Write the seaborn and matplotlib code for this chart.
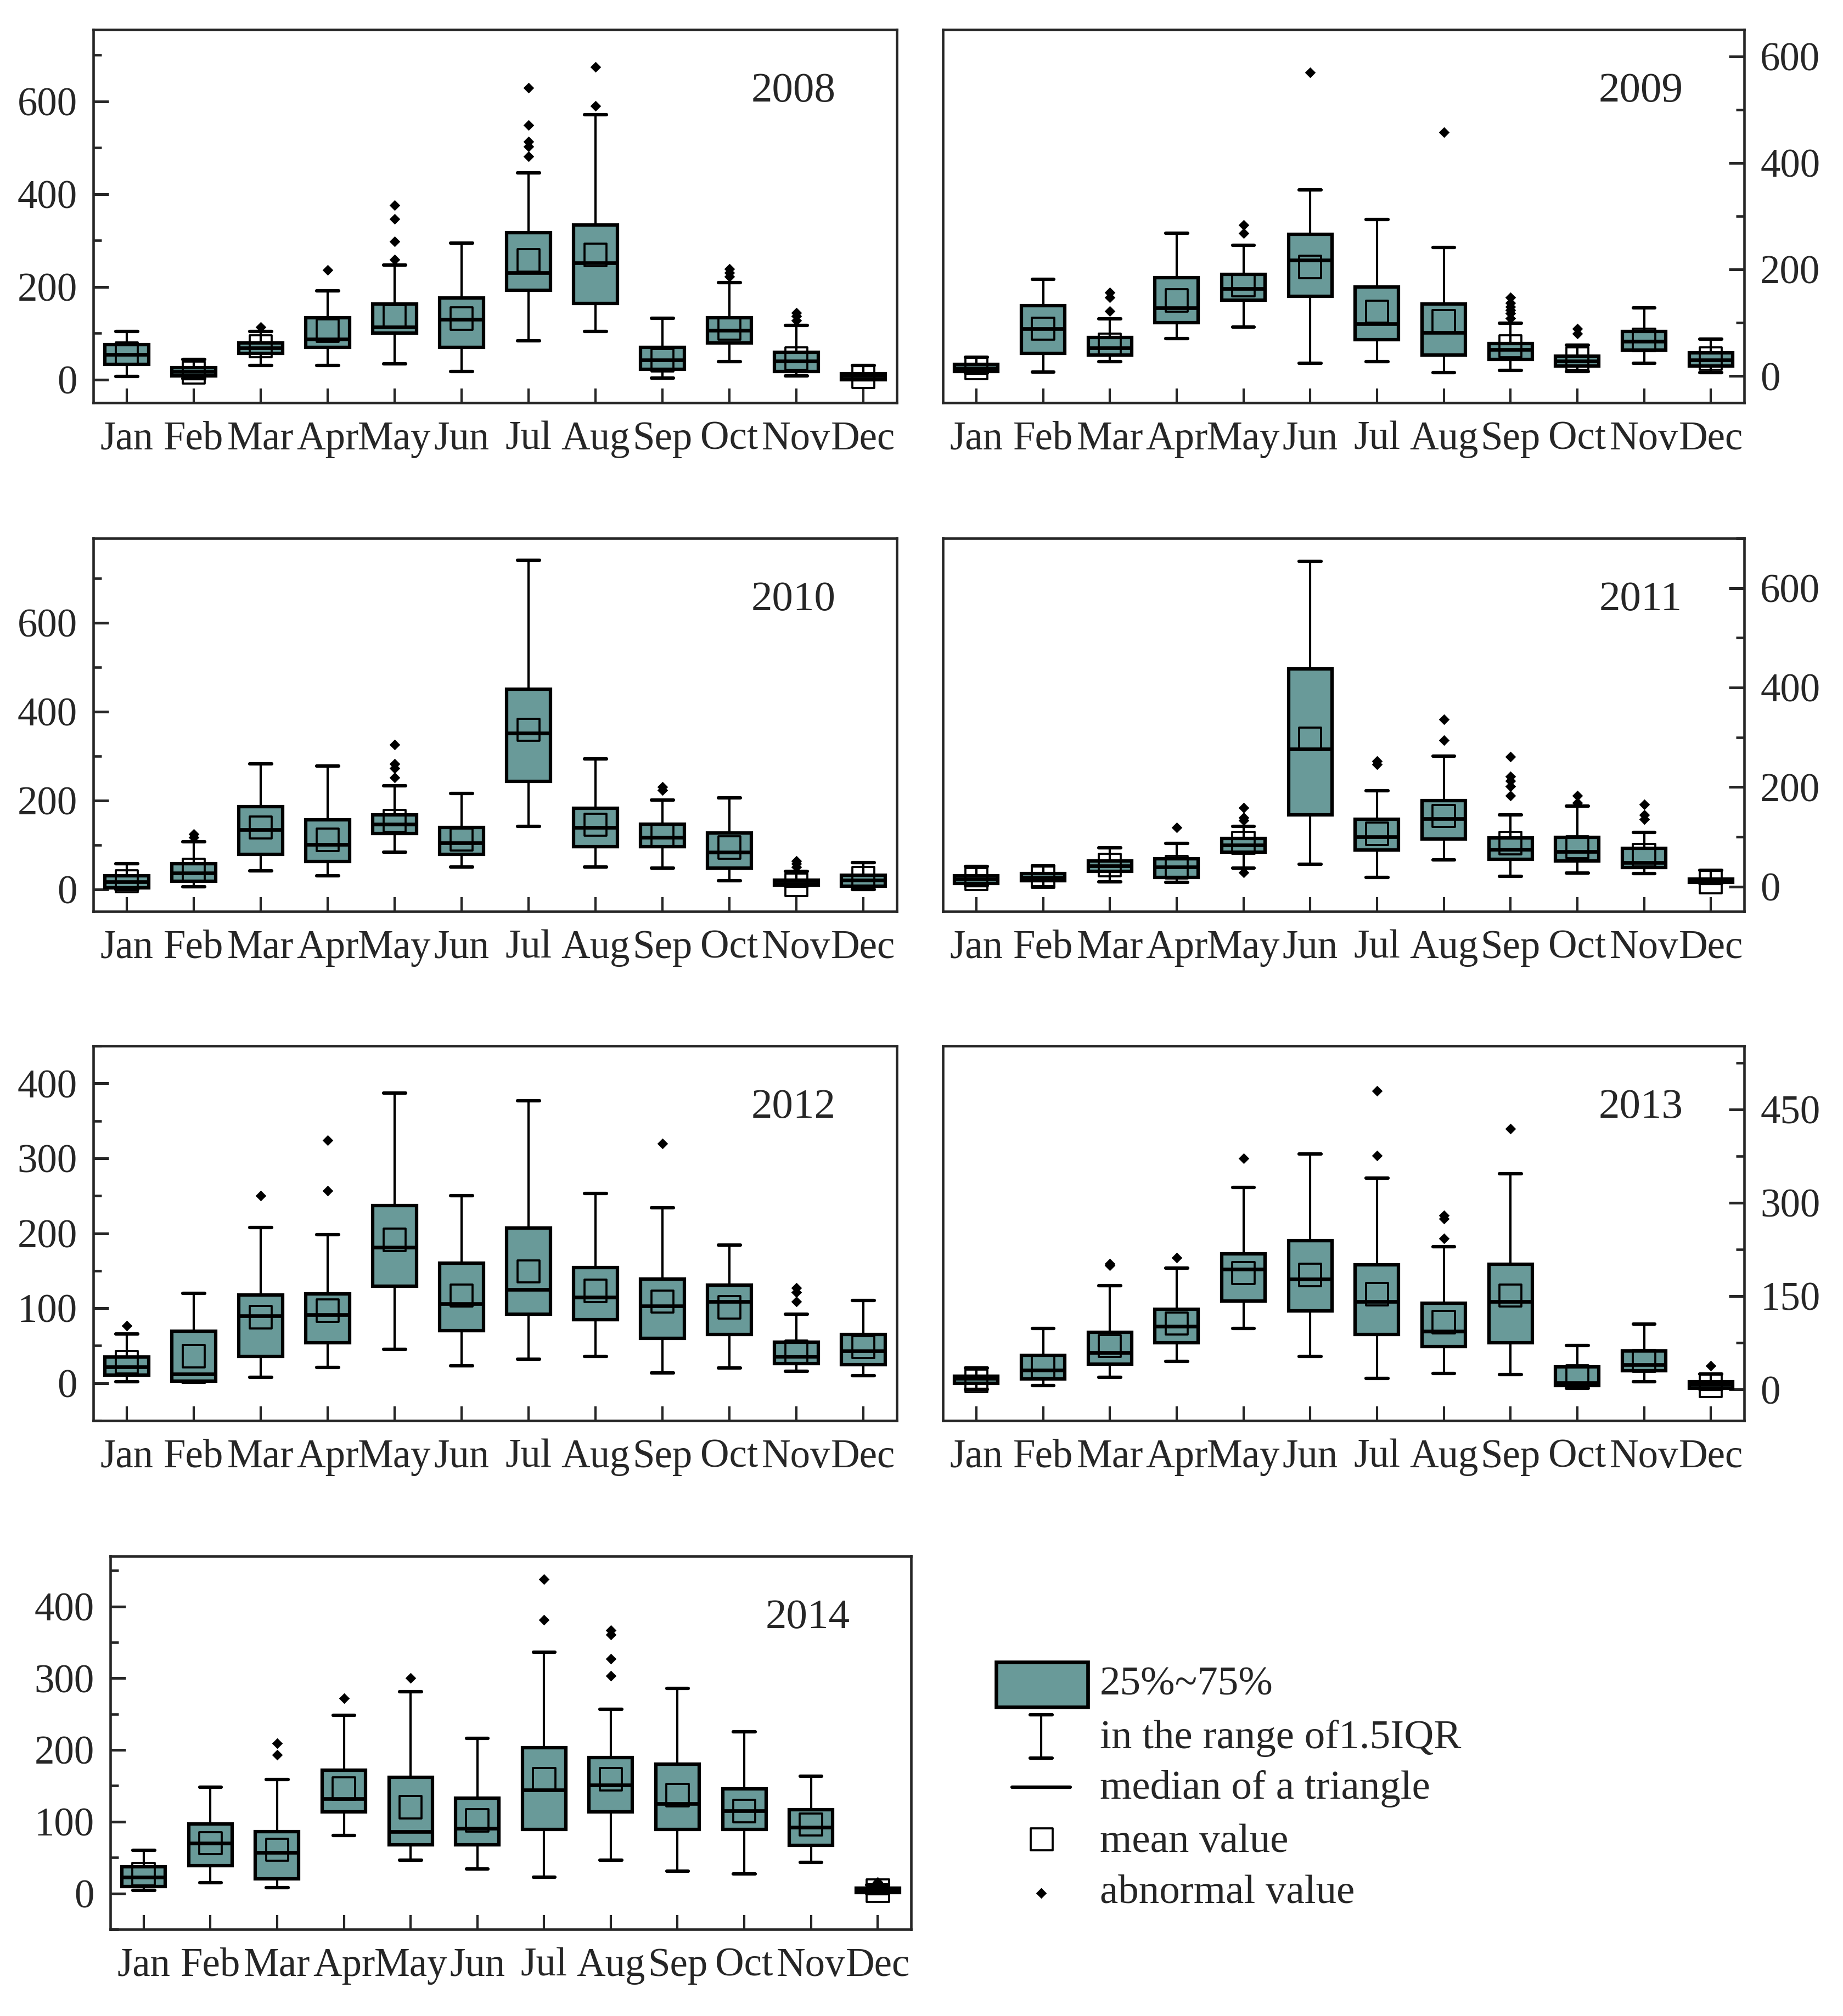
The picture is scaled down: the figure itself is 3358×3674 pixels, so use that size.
import numpy as np
import pandas as pd
import seaborn as sns
import matplotlib.pyplot as plt
from matplotlib.patches import Rectangle
from matplotlib.ticker import MultipleLocator

months = ['Jan', 'Feb', 'Mar', 'Apr', 'May', 'Jun', 'Jul', 'Aug', 'Sep', 'Oct', 'Nov', 'Dec']
years = [2008, 2009, 2010, 2011, 2012, 2013, 2014]

# 2008
lo_2008 = [7, 2, 30, 30, 34, 17, 84, 104, 3, 39, 8, 0]
q1_2008 = [33, 8, 57, 69, 100, 69, 193, 164, 22, 79, 17, 0]
med_2008 = [54, 18, 68, 87, 113, 130, 230, 252, 42, 106, 40, 8]
q3_2008 = [76, 26, 79, 134, 163, 176, 317, 333, 69, 134, 59, 13]
hi_2008 = [104, 43, 104, 191, 247, 294, 446, 572, 132, 209, 117, 30]
mean_2008 = [56, 15, 72, 106, 137, 132, 257, 269, 42, 110, 45, 6]
out_2008 = [[], [], [113], [237], [259, 298, 346, 376], [], [481, 503, 513, 549, 629],
            [590, 674], [], [222, 230, 239], [127, 137, 144], []]

# 2009
lo_2009 = [6, 8, 27, 70, 92, 24, 27, 7, 11, 9, 24, 7]
q1_2009 = [9, 43, 40, 100, 142, 150, 68, 40, 31, 19, 49, 19]
med_2009 = [15, 89, 53, 128, 164, 218, 98, 82, 50, 28, 65, 30]
q3_2009 = [22, 132, 72, 185, 191, 266, 167, 135, 61, 37, 84, 44]
hi_2009 = [35, 182, 108, 268, 245, 349, 294, 241, 99, 58, 128, 69]
mean_2009 = [15, 89, 59, 142, 171, 205, 121, 103, 56, 33, 68, 33]
out_2009 = [[], [], [122, 148, 157], [], [268, 284], [570], [], [458],
            [109, 118, 124, 130, 137, 148], [80, 89], [], []]

# 2010
lo_2010 = [0, 5, 42, 30, 84, 50, 141, 50, 47, 19, 7, 0]
q1_2010 = [3, 18, 78, 62, 126, 78, 243, 96, 96, 47, 9, 7]
med_2010 = [17, 36, 134, 101, 147, 104, 351, 139, 117, 84, 13, 20]
q3_2010 = [30, 57, 186, 156, 168, 139, 450, 182, 147, 127, 20, 32]
hi_2010 = [57, 107, 282, 277, 233, 215, 740, 293, 201, 206, 40, 60]
mean_2010 = [18, 44, 139, 111, 154, 112, 359, 145, 121, 94, 10, 25]
out_2010 = [[], [117, 124], [], [], [251, 272, 282, 325], [], [], [], [223, 230], [],
            [50, 57, 64], []]

# 2011
lo_2011 = [2, 0, 10, 8, 37, 45, 18, 54, 21, 27, 26, 6]
q1_2011 = [6, 12, 30, 18, 69, 144, 74, 96, 55, 52, 38, 8]
med_2011 = [15, 18, 41, 39, 84, 276, 100, 136, 75, 70, 48, 12]
q3_2011 = [22, 26, 52, 56, 97, 437, 135, 173, 98, 99, 77, 15]
hi_2011 = [40, 42, 78, 87, 121, 654, 193, 262, 144, 162, 109, 33]
mean_2011 = [15, 20, 43, 39, 88, 297, 106, 142, 87, 79, 63, 9]
out_2011 = [[], [], [], [119], [28, 133, 139, 159], [], [246, 252], [294, 336],
            [183, 201, 213, 221, 261], [168, 183], [135, 144, 165], []]

# 2012
lo_2012 = [2, 1, 8, 21, 45, 23, 32, 36, 14, 20, 16, 10]
q1_2012 = [11, 3, 36, 54, 129, 70, 92, 85, 60, 65, 26, 25]
med_2012 = [22, 12, 90, 91, 181, 106, 125, 115, 103, 109, 36, 43]
q3_2012 = [35, 69, 118, 119, 237, 160, 207, 154, 139, 131, 55, 65]
hi_2012 = [66, 120, 208, 198, 387, 250, 377, 253, 234, 184, 92, 110]
mean_2012 = [28, 36, 88, 97, 191, 117, 149, 123, 109, 101, 42, 48]
out_2012 = [[77], [], [250], [257, 324], [], [], [], [], [320], [], [109, 121, 127], []]

# 2013
lo_2013 = [0, 6, 20, 45, 98, 53, 18, 26, 24, 2, 13, 0]
q1_2013 = [10, 17, 41, 75, 142, 126, 88, 69, 75, 6, 30, 2]
med_2013 = [18, 31, 59, 102, 193, 177, 141, 94, 141, 11, 40, 8]
q3_2013 = [21, 55, 92, 129, 218, 239, 200, 139, 201, 36, 62, 13]
hi_2013 = [35, 98, 167, 195, 325, 378, 340, 229, 347, 71, 105, 25]
mean_2013 = [14, 37, 70, 106, 187, 184, 153, 108, 151, 21, 46, 6]
out_2013 = [[], [], [199, 202], [212], [371], [], [376, 480], [243, 274, 280], [419],
            [], [], [38]]

# 2014
lo_2014 = [4, 15, 8, 81, 46, 34, 23, 46, 31, 27, 43, 0]
q1_2014 = [10, 39, 20, 114, 68, 68, 89, 114, 89, 89, 67, 1]
med_2014 = [23, 70, 57, 132, 86, 91, 144, 151, 125, 115, 92, 4]
q3_2014 = [37, 97, 86, 172, 162, 133, 203, 189, 180, 146, 117, 7]
hi_2014 = [60, 148, 159, 248, 281, 216, 336, 257, 286, 225, 163, 12]
mean_2014 = [27, 70, 61, 146, 120, 102, 159, 159, 137, 115, 96, 4]
out_2014 = [[], [], [193, 209], [272], [300], [], [381, 438], [303, 327, 361, 367],
            [], [], [], [16]]

ylims = {2008: (-50, 755), 2009: (-50, 650), 2010: (-50, 790), 2011: (-50, 700),
         2012: (-50, 450), 2013: (-50, 552), 2014: (-50, 470)}
steps = {2008: 200, 2009: 200, 2010: 200, 2011: 200, 2012: 100, 2013: 150, 2014: 100}

LO = {2008: lo_2008, 2009: lo_2009, 2010: lo_2010, 2011: lo_2011, 2012: lo_2012, 2013: lo_2013, 2014: lo_2014}
Q1 = {2008: q1_2008, 2009: q1_2009, 2010: q1_2010, 2011: q1_2011, 2012: q1_2012, 2013: q1_2013, 2014: q1_2014}
MED = {2008: med_2008, 2009: med_2009, 2010: med_2010, 2011: med_2011, 2012: med_2012, 2013: med_2013, 2014: med_2014}
Q3 = {2008: q3_2008, 2009: q3_2009, 2010: q3_2010, 2011: q3_2011, 2012: q3_2012, 2013: q3_2013, 2014: q3_2014}
HI = {2008: hi_2008, 2009: hi_2009, 2010: hi_2010, 2011: hi_2011, 2012: hi_2012, 2013: hi_2013, 2014: hi_2014}
MEAN = {2008: mean_2008, 2009: mean_2009, 2010: mean_2010, 2011: mean_2011, 2012: mean_2012, 2013: mean_2013, 2014: mean_2014}
OUT = {2008: out_2008, 2009: out_2009, 2010: out_2010, 2011: out_2011, 2012: out_2012, 2013: out_2013, 2014: out_2014}

TEAL = '#699a99'
W, H = 3358, 3674
FS = 17.5

sns.set_style('ticks')
plt.rcParams['font.family'] = ['Liberation Serif', 'DejaVu Serif']
plt.rcParams['axes.linewidth'] = 1.1

fig = plt.figure(figsize=(W / 300, H / 300), dpi=300)

# axes boxes in pixels: left, top, right, bottom
boxes = {2008: (170, 54, 1634, 734), 2009: (1718, 54, 3178, 734),
         2010: (170, 981, 1634, 1661), 2011: (1718, 981, 3178, 1661),
         2012: (170, 1906, 1634, 2589), 2013: (1718, 1906, 3178, 2589),
         2014: (201, 2836, 1660, 3516)}

pos = np.arange(12)
for i, yr in enumerate(years):
    l, t, r, b = boxes[yr]
    ax = fig.add_axes([l / W, 1 - b / H, (r - l) / W, (b - t) / H])

    stats = []
    for m in range(12):
        stats.append(dict(whislo=LO[yr][m], q1=Q1[yr][m], med=MED[yr][m],
                          q3=Q3[yr][m], whishi=HI[yr][m], fliers=[]))
    ax.bxp(stats, positions=pos, widths=0.65, patch_artist=True, showfliers=False,
           manage_ticks=False,
           boxprops=dict(facecolor=TEAL, edgecolor='black', linewidth=1.5),
           medianprops=dict(color='black', linewidth=1.6),
           whiskerprops=dict(color='black', linewidth=1.0),
           capprops=dict(color='black', linewidth=1.5))

    df_mean = pd.DataFrame({'pos': pos, 'mean': MEAN[yr]})
    sns.scatterplot(data=df_mean, x='pos', y='mean', marker='s', s=95,
                    facecolor='none', edgecolor='black', linewidth=0.9, ax=ax, zorder=5)

    fx, fy = [], []
    for m in range(12):
        for v in OUT[yr][m]:
            fx.append(m)
            fy.append(v)
    df_out = pd.DataFrame({'pos': fx, 'val': fy})
    sns.scatterplot(data=df_out, x='pos', y='val', marker='D', s=11, color='black',
                    linewidth=0, ax=ax, zorder=5)

    ax.set_xlim(-0.5, 11.5)
    ax.set_ylim(*ylims[yr])
    ax.set_xticks(pos)
    ax.set_xticklabels(months)
    ax.yaxis.set_major_locator(MultipleLocator(steps[yr]))
    ax.yaxis.set_minor_locator(MultipleLocator(steps[yr] / 2))
    ax.set_xlabel('')
    ax.set_ylabel('')
    for s in ax.spines.values():
        s.set_visible(True)
        s.set_linewidth(1.1)

    ax.tick_params(axis='x', which='both', direction='in', length=6.2, width=1.0,
                   top=False, bottom=True, labelsize=FS, pad=8)
    ax.tick_params(axis='y', which='major', direction='in', length=6.8, width=1.2,
                   labelsize=FS, pad=7)
    ax.tick_params(axis='y', which='minor', direction='in', length=3.6, width=1.1)
    if i % 2 == 1 and yr != 2014:
        ax.yaxis.tick_right()
        ax.tick_params(axis='y', which='both', left=False, right=True)
    else:
        ax.tick_params(axis='y', which='both', left=True, right=False)

    ax.text(0.871, 0.835, str(yr), transform=ax.transAxes, ha='center', va='center',
            fontsize=18.5)

# legend
lax = fig.add_axes([0, 0, 1, 1], zorder=-1)
lax.set_xlim(0, W)
lax.set_ylim(H, 0)
lax.axis('off')
lax.add_patch(Rectangle((1815, 3029), 167, 82, facecolor=TEAL, edgecolor='black', lw=1.6))
lax.plot([1897, 1897], [3125, 3204], color='black', lw=1.0)
lax.plot([1877, 1917], [3125, 3125], color='black', lw=1.5)
lax.plot([1877, 1917], [3204, 3204], color='black', lw=1.5)
lax.plot([1844, 1950], [3257, 3257], color='black', lw=1.5)
lax.scatter([1898], [3352], marker='s', s=95, facecolor='none', edgecolor='black', linewidth=0.9)
lax.scatter([1897], [3450], marker='D', s=11, color='black', linewidth=0)
leg_labels = ['25%~75%', 'in the range of1.5IQR', 'median of a triangle', 'mean value', 'abnormal value']
leg_y = [3071, 3168, 3260, 3357, 3450]
for lab, yy in zip(leg_labels, leg_y):
    lax.text(2004, yy, lab, ha='left', va='center', fontsize=18)

plt.savefig('out.png', dpi=300)
